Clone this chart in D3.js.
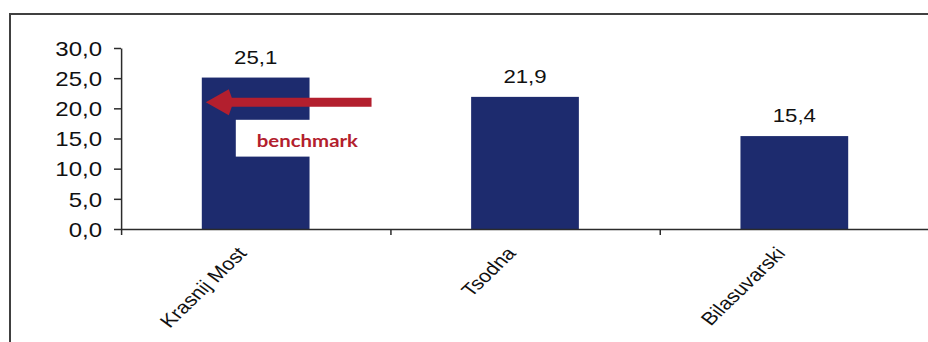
<!DOCTYPE html>
<html>
<head>
<meta charset="utf-8">
<script src="https://cdn.jsdelivr.net/npm/d3@7"></script>
<style>
  html, body { margin: 0; padding: 0; background: #fff; }
  svg { display: block; }
  .nss { vector-effect: non-scaling-stroke; }
</style>
</head>
<body>
<svg id="chart" width="928" height="342"></svg>
<script>
// Values per site
const categories = ["Krasnij Most", "Tsodna", "Bilasuvarski"];
const values = [25.1, 21.9, 15.4];
const yTicks = [0, 5, 10, 15, 20, 25, 30];
const benchmarkLabel = "benchmark";
const benchmarkValue = 21;

const W = 928, H = 342;
const SX = 1.2;               // horizontal text/figure stretch of the original slide
const u = v => v / SX;        // screen x -> inner (unstretched) x

const locale = d3.formatLocale({ decimal: ",", thousands: ".", grouping: [3], currency: ["", ""] });
const fmt1 = locale.format(".1f");

const svg = d3.select("#chart");

// outer frame of the slide chart
svg.append("rect")
  .attr("x", 10).attr("y", 14)
  .attr("width", W + 20).attr("height", H + 20)
  .attr("fill", "#fff").attr("stroke", "#404040").attr("stroke-width", 2);

const g = svg.append("g").attr("transform", `scale(${SX},1)`);

const plot = { left: 121, right: 929, top: 48, bottom: 229 };

const x = d3.scaleBand()
  .domain(categories)
  .range([u(plot.left), u(plot.right)])
  .paddingInner(0.6)
  .paddingOuter(0.3);

const xEdge = d3.scaleLinear()
  .domain([0, categories.length])
  .range([u(plot.left), u(plot.right)]);

const y = d3.scaleLinear().domain([0, 30]).range([plot.bottom, plot.top]);

const barColor = "#1d2b6e";
const red = "#b31f2e";
const axisColor = "#2b2b2b";

// bars
g.selectAll("rect.bar")
  .data(values)
  .join("rect")
  .attr("class", "bar")
  .attr("x", (d, i) => x(categories[i]))
  .attr("width", x.bandwidth())
  .attr("y", d => y(d))
  .attr("height", d => y(0) - y(d))
  .attr("fill", barColor);

// value labels
g.selectAll("text.val")
  .data(values)
  .join("text")
  .attr("class", "val")
  .attr("x", (d, i) => x(categories[i]) + x.bandwidth() / 2)
  .attr("y", d => y(d) - 14)
  .attr("text-anchor", "middle")
  .attr("font-family", "Liberation Sans, Arial, sans-serif")
  .attr("font-size", 18.5)
  .attr("fill", "#111")
  .text(d => fmt1(d));

// y axis
const yAxis = g.append("g")
  .attr("transform", `translate(${u(plot.left)},0)`)
  .call(d3.axisLeft(y).tickValues(yTicks).tickFormat(fmt1).tickSize(u(7)).tickSizeOuter(0).tickPadding(u(12)));
yAxis.selectAll("path, line").attr("stroke", axisColor).attr("stroke-width", 1.5).attr("class", "nss");
yAxis.selectAll("text")
  .attr("font-family", "Liberation Sans, Arial, sans-serif")
  .attr("font-size", 20)
  .attr("fill", "#111")
  .attr("dy", "0.36em");

// x axis: boundary ticks
const xTicksG = g.append("g")
  .attr("transform", `translate(0,${y(0)})`)
  .call(d3.axisBottom(xEdge).tickValues(d3.range(categories.length + 1)).tickFormat("").tickSize(6).tickSizeOuter(0));
xTicksG.selectAll("path, line").attr("stroke", axisColor).attr("stroke-width", 1.5).attr("class", "nss");

// x axis: rotated category labels
const xAxis = g.append("g")
  .attr("transform", `translate(0,${y(0)})`)
  .call(d3.axisBottom(x).tickSize(0).tickSizeOuter(0));
xAxis.select(".domain").remove();
xAxis.selectAll("text")
  .attr("font-family", "Liberation Sans, Arial, sans-serif")
  .attr("font-size", 18)
  .attr("fill", "#111")
  .attr("text-anchor", "end")
  .attr("x", 0).attr("y", 0).attr("dy", 0)
  .attr("transform", `translate(${u(-8)},25) rotate(-49)`);

// benchmark annotation on the first bar
const b0 = x(categories[0]);
const bw = x.bandwidth();
const boxTop = y(18.1), boxBottom = y(12);
g.append("rect")
  .attr("x", b0 + u(34))
  .attr("y", boxTop)
  .attr("width", bw + u(30))
  .attr("height", boxBottom - boxTop)
  .attr("fill", "#fff");

g.append("text")
  .attr("x", b0 + u(55))
  .attr("y", boxBottom - 10)
  .attr("font-family", "Lato, 'Open Sans', sans-serif")
  .attr("font-weight", 700)
  .attr("font-size", 17)
  .attr("fill", red)
  .text(benchmarkLabel);

// arrow pointing left at the benchmark level
const ay = y(benchmarkValue);
const tipX = b0 + u(4);
const headBack = b0 + u(30);
const tailX = b0 + bw + u(62);
const arrow = d3.path();
arrow.moveTo(tailX, ay - 4.5);
arrow.lineTo(headBack, ay - 4.5);
arrow.lineTo(headBack - u(3), ay - 13);
arrow.lineTo(tipX, ay);
arrow.lineTo(headBack - u(3), ay + 13);
arrow.lineTo(headBack, ay + 4.5);
arrow.lineTo(tailX, ay + 4.5);
arrow.closePath();
g.append("path").attr("d", arrow.toString()).attr("fill", red);
</script>
</body>
</html>
